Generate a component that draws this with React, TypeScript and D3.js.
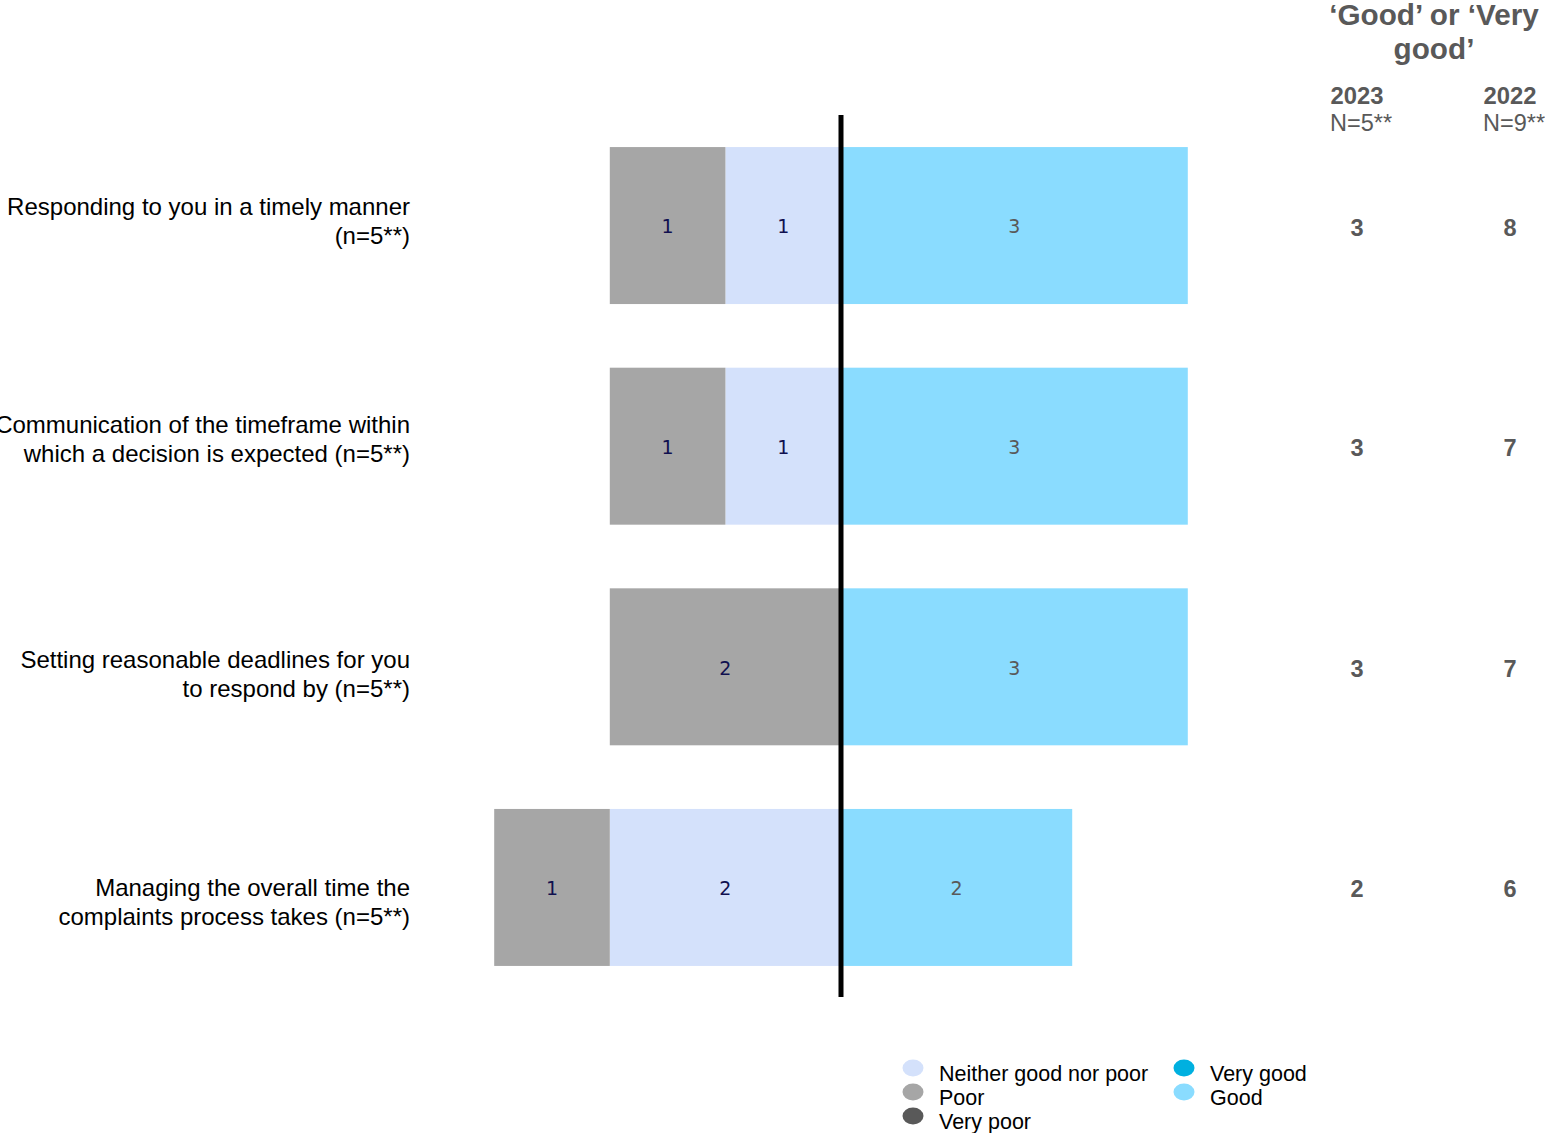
import React from "react";
import * as d3 from "d3";

const categories = [
  ["Responding to you in a timely manner", "(n=5**)"],
  ["Communication of the timeframe within", "which a decision is expected (n=5**)"],
  ["Setting reasonable deadlines for you", "to respond by (n=5**)"],
  ["Managing the overall time the", "complaints process takes (n=5**)"],
];
const veryPoor = [0, 0, 0, 0];
const poor = [1, 1, 2, 1];
const neither = [1, 1, 0, 2];
const good = [3, 3, 3, 2];
const veryGood = [0, 0, 0, 0];
const good2023 = [3, 3, 3, 2];
const good2022 = [8, 7, 7, 6];
const yearLabels = ["2023", "2022"];
const nLabels = ["N=5**", "N=9**"];
const labelShift = [-4.5, -7, 7, 15];

const colors = {
  veryPoor: "#595959",
  poor: "#a6a6a6",
  neither: "#d4e1fb",
  good: "#8adcff",
  veryGood: "#00b0e0",
};

export default function App() {
  const W = 1545, H = 1133;
  const x = d3.scaleLinear().domain([-3, 3]).range([841 - 3 * 115.6, 841 + 3 * 115.6]);
  const y = d3.scaleBand().domain(d3.range(categories.length).map(String)).range([125, 988]).paddingInner(0.2885).paddingOuter(0.1);
  const bh = y.bandwidth();

  const segs: any[] = [];
  categories.forEach((_, i) => {
    let left = 0;
    [["neither", neither[i]], ["poor", poor[i]], ["veryPoor", veryPoor[i]]].forEach(([k, v]: any) => {
      if (v > 0) segs.push({ i, k, x0: left - v, x1: left, v, lc: "#10104f" });
      left -= v;
    });
    let right = 0;
    [["good", good[i]], ["veryGood", veryGood[i]]].forEach(([k, v]: any) => {
      if (v > 0) segs.push({ i, k, x0: right, x1: right + v, v, lc: "#595959" });
      right += v;
    });
  });

  const legendL = [["Neither good nor poor", colors.neither], ["Poor", colors.poor], ["Very poor", colors.veryPoor]];
  const legendR = [["Very good", colors.veryGood], ["Good", colors.good]];
  const colX = [1357, 1510];

  return (
    <svg width={W} height={H} style={{ position: "absolute", left: 0, top: 0, background: "#fff" }} fontFamily="Liberation Sans, Arial, sans-serif">
      {segs.map((s, j) => {
        const yy = y(String(s.i))!;
        return (
          <g key={j}>
            <rect x={x(s.x0)} y={yy} width={x(s.x1) - x(s.x0)} height={bh} fill={(colors as any)[s.k]} />
            <text x={(x(s.x0) + x(s.x1)) / 2} y={yy + bh / 2 + 1} dy="0.36em" textAnchor="middle" fontFamily="DejaVu Sans, Verdana, sans-serif" fontSize={19} fill={s.lc}>{s.v}</text>
          </g>
        );
      })}
      <line x1={x(0)} x2={x(0)} y1={115} y2={997} stroke="#000" strokeWidth={5} />
      {categories.map((c, i) => {
        const cy = y(String(i))! + bh / 2 + labelShift[i];
        return (
          <text key={i} textAnchor="end" fontSize={24} fill="#000">
            <tspan x={410} y={cy - 14.5} dy="0.35em">{c[0]}</tspan>
            <tspan x={410} y={cy + 14.5} dy="0.35em">{c[1]}</tspan>
          </text>
        );
      })}
      {categories.map((_, i) => {
        const cy = y(String(i))! + bh / 2 + 1.5;
        return (
          <g key={i} fontWeight="bold" fontSize={23.5} fill="#595959" textAnchor="middle">
            <text x={colX[0]} y={cy} dy="0.36em">{good2023[i]}</text>
            <text x={colX[1]} y={cy} dy="0.36em">{good2022[i]}</text>
          </g>
        );
      })}
      <g fill="#595959" textAnchor="middle">
        <text x={1434} y={14} dy="0.36em" fontSize={29.7} fontWeight="bold">‘Good’ or ‘Very</text>
        <text x={1434} y={48} dy="0.36em" fontSize={29.7} fontWeight="bold">good’</text>
        {yearLabels.map((t, k) => (
          <text key={t} x={colX[k]} y={95} dy="0.36em" fontSize={23.8} fontWeight="bold">{t}</text>
        ))}
        {nLabels.map((t, k) => (
          <text key={t} x={colX[k] + 4} y={123} dy="0.36em" fontSize={23.5}>{t}</text>
        ))}
      </g>
      {legendL.map(([t, c], k) => (
        <g key={t}>
          <ellipse cx={913} cy={1068 + k * 24} rx={10.5} ry={8.5} fill={c} />
          <text x={939} y={1073 + k * 24} dy="0.36em" fontSize={21.5} fill="#000">{t}</text>
        </g>
      ))}
      {legendR.map(([t, c], k) => (
        <g key={t}>
          <ellipse cx={1184} cy={1068 + k * 24} rx={10.5} ry={8.5} fill={c} />
          <text x={1210} y={1073 + k * 24} dy="0.36em" fontSize={21.5} fill="#000">{t}</text>
        </g>
      ))}
    </svg>
  );
}
